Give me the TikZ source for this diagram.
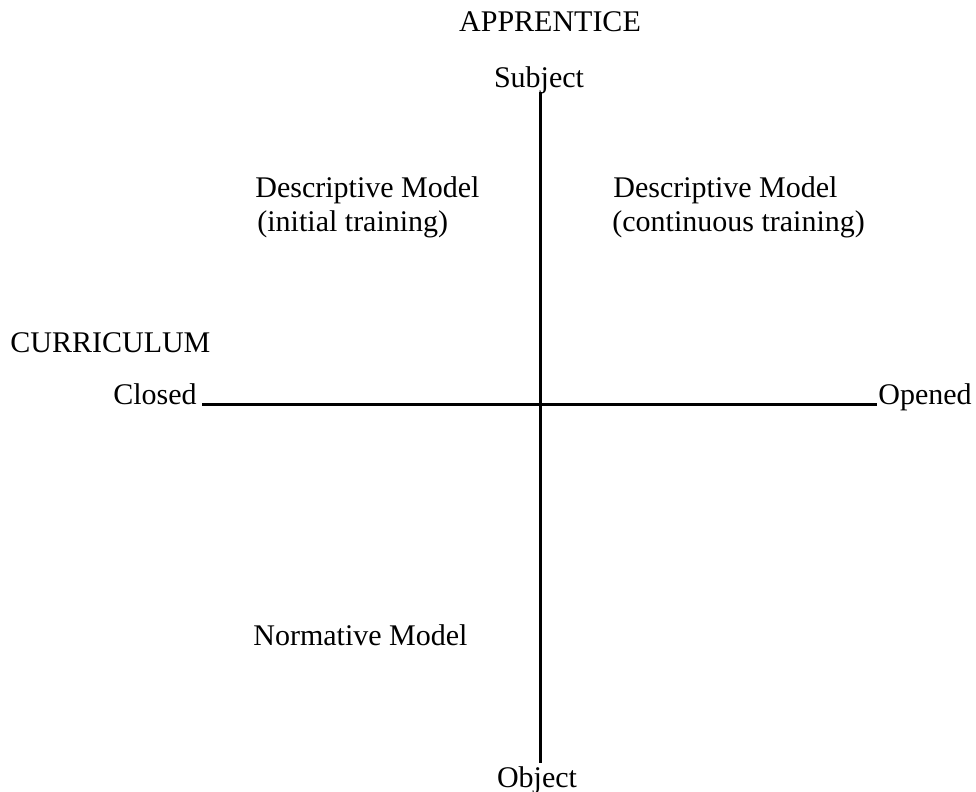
\documentclass[tikz,border=0pt]{standalone}
\usepackage{fontspec}
\setmainfont{Liberation Serif}
\usepackage{tikz}
\usetikzlibrary{positioning}
\tikzset{
    label/.style={
        inner sep=0pt,
        font=\fontsize{15}{17}\selectfont
    },
    axis/.style={
        line width=1.5pt
    }
}

\begin{document}
\begin{tikzpicture}[x=0.5pt, y=-0.5pt]
  \useasboundingbox (0,0) rectangle (976,792);

  % Axis titles
  \node[label, anchor=base] (apprentice) at (550,32) {APPRENTICE};
  \node[label, anchor=base west] (curriculum) at (10,352) {CURRICULUM};

  % Axis ends
  \node[label, anchor=base] (subject) at (539,88) {Subject};
  \node[label, anchor=base] (object) at (537,787) {Object};
  \node[label, anchor=base east] (closed) at (197,404) {Closed};
  \node[label, anchor=base west] (opened) at (878,404) {Opened};

  \coordinate (top) at (540,92);
  \coordinate (bottom) at (540,763);
  \coordinate (left) at (202,404);
  \coordinate (right) at (877,404);

  % Axes
  \draw[axis] (top) -- (bottom);
  \draw[axis] (left) -- (right);

  % Quadrants
  \node[label, anchor=base west] (desc1) at (255,198) {Descriptive Model};
  \node[label, anchor=base west] (init) at (257,232) {(initial training)};
  \node[label, anchor=base west] (desc2) at (613,198) {Descriptive Model};
  \node[label, anchor=base west] (cont) at (612,232) {(continuous training)};
  \node[label, anchor=base west] (norm) at (253,645) {Normative Model};
\end{tikzpicture}
\end{document}
